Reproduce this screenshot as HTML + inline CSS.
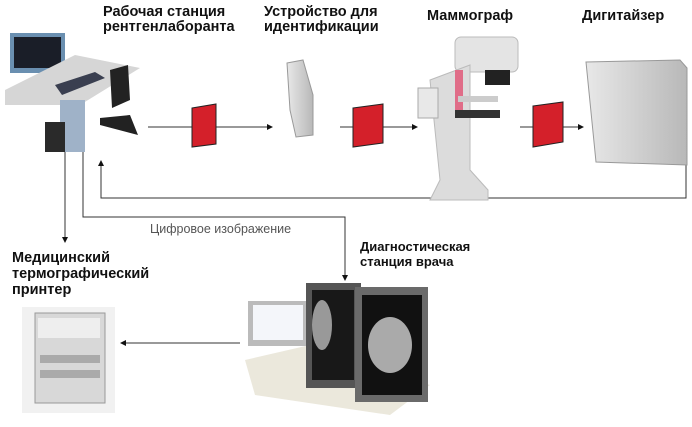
<!DOCTYPE html>
<html><head><meta charset="utf-8"><style>
html,body{margin:0;padding:0;background:#fff;width:692px;height:427px;overflow:hidden}
svg{display:block}
.t{font-family:"Liberation Sans",sans-serif;font-weight:bold;font-size:14.5px;fill:#111}
.d{font-family:"Liberation Sans",sans-serif;font-weight:bold;font-size:13px;fill:#111}
.g{font-family:"Liberation Sans",sans-serif;font-size:12.5px;fill:#555}
</style></head><body>
<svg width="692" height="427" viewBox="0 0 692 427">
<defs>
<marker id="a" markerWidth="6" markerHeight="6" refX="5" refY="3" orient="auto"><path d="M0,0 L6,3 L0,6z" fill="#111"/></marker>
<linearGradient id="gr" x1="0" x2="1"><stop offset="0" stop-color="#e8e8e8"/><stop offset="1" stop-color="#b8b8b8"/></linearGradient>
</defs>
<text class="t" x="103" y="16">Рабочая станция</text>
<text class="t" x="103" y="31">рентгенлаборанта</text>
<text class="t" x="264" y="16">Устройство для</text>
<text class="t" x="264" y="31">идентификации</text>
<text class="t" x="427" y="20">Маммограф</text>
<text class="t" x="582" y="20">Дигитайзер</text>
<text class="t" x="12" y="262">Медицинский</text>
<text class="t" x="12" y="278">термографический</text>
<text class="t" x="12" y="294">принтер</text>
<text class="d" x="360" y="251">Диагностическая</text>
<text class="d" x="360" y="266">станция врача</text>
<text class="g" x="150" y="233">Цифровое изображение</text>
<g stroke="#333" stroke-width="1" fill="none">
<line x1="148" y1="127" x2="272" y2="127" marker-end="url(#a)"/>
<line x1="340" y1="127" x2="417" y2="127" marker-end="url(#a)"/>
<line x1="520" y1="127" x2="583" y2="127" marker-end="url(#a)"/>
<polyline points="686,130 686,198 101,198 101,161" marker-end="url(#a)"/>
<polyline points="83,152 83,217 345,217 345,280" marker-end="url(#a)"/>
<line x1="65" y1="152" x2="65" y2="242" marker-end="url(#a)"/>
<line x1="240" y1="343" x2="121" y2="343" marker-end="url(#a)"/>
</g>
<rect x="10" y="33" width="55" height="40" fill="#6a8fb0"/><rect x="14" y="37" width="47" height="31" fill="#1a1e28"/>
<polygon points="5,90 75,55 140,68 80,105 5,105" fill="#d6d6d6"/>
<polygon points="55,85 95,72 105,78 62,95" fill="#3a3f50"/>
<rect x="60" y="100" width="25" height="52" fill="#9fb2c8"/>
<rect x="45" y="122" width="20" height="30" fill="#2a2a2a"/>
<path d="M110,70 L128,65 L130,100 L112,108z M100,118 L130,115 L138,135 L100,125z" fill="#222"/>
<g fill="#d4202a" stroke="#222" stroke-width="1">
<polygon points="192,108 216,104 216,144 192,147"/>
<polygon points="353,108 383,104 383,143 353,147"/>
<polygon points="533,106 563,102 563,142 533,147"/>
<polygon points="670,103 684,105 684,132 671,130"/>
</g>
<polygon points="287,63 303,60 313,95 313,135 296,137 290,110" fill="url(#gr)" stroke="#999"/>
<rect x="455" y="37" width="63" height="35" rx="6" fill="#e4e4e4" stroke="#bbb"/>
<rect x="485" y="70" width="25" height="15" fill="#222"/>
<path d="M430,80 L470,65 L470,170 L488,190 L488,200 L430,200 L440,180z" fill="#dcdcdc" stroke="#bbb"/>
<rect x="418" y="88" width="20" height="30" fill="#e8e8e8" stroke="#aaa"/>
<rect x="455" y="70" width="8" height="40" fill="#e06d88"/>
<rect x="458" y="96" width="40" height="6" fill="#ccc"/>
<rect x="455" y="110" width="45" height="8" fill="#333"/>
<polygon points="586,62 680,60 687,68 687,165 596,162" fill="url(#gr)" stroke="#999"/>
<polygon points="245,360 310,345 430,385 390,415 255,395" fill="#ebe8dc"/>
<rect x="248" y="301" width="60" height="45" fill="#bbb"/><rect x="253" y="305" width="50" height="35" fill="#f4f6fa"/>
<rect x="306" y="283" width="55" height="105" fill="#555"/><rect x="312" y="290" width="42" height="90" fill="#181818"/>
<ellipse cx="322" cy="325" rx="10" ry="25" fill="#999"/>
<rect x="355" y="287" width="73" height="115" fill="#6a6a6a"/><rect x="362" y="295" width="60" height="100" fill="#111"/>
<ellipse cx="390" cy="345" rx="22" ry="28" fill="#aaa"/>
<rect x="22" y="307" width="93" height="106" fill="#f1f1f1"/>
<rect x="35" y="313" width="70" height="90" fill="#d8d8d8" stroke="#999"/>
<rect x="38" y="318" width="62" height="20" fill="#eee"/>
<rect x="40" y="355" width="60" height="8" fill="#aaa"/><rect x="40" y="370" width="60" height="8" fill="#aaa"/>
</svg>
</body></html>
